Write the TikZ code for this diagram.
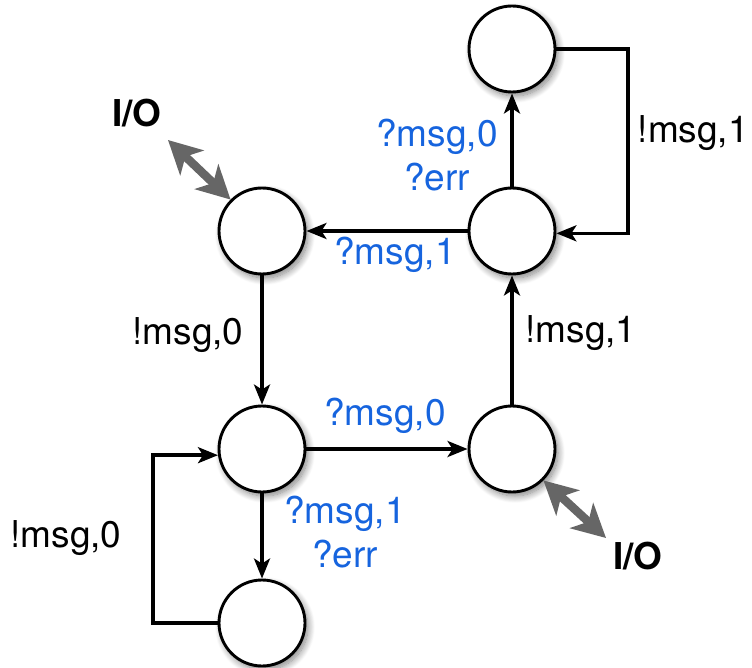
\documentclass[tikz,border=0pt]{standalone}
\usepackage{fontspec}
\setmainfont{TeX Gyre Heros}
\usetikzlibrary{arrows.meta,shadows.blur}
\definecolor{lblblue}{RGB}{22,100,222}
\definecolor{ioGray}{RGB}{102,102,102}
\tikzset{
  state/.style={circle,draw=black,line width=2.9pt,fill=white,minimum size=86pt,inner sep=0pt,
    blur shadow={shadow xshift=3pt,shadow yshift=-4pt,shadow blur radius=7pt,shadow blur steps=12,shadow opacity=50}},
  arr/.style={line width=3.4pt,-{Stealth[length=20pt,width=16pt,inset=5pt]}},
  loop/.style={arr,line join=miter},
  io/.style={draw=ioGray,line width=8.5pt,{Stealth[length=33pt,width=34pt,inset=9pt]}-{Stealth[length=33pt,width=34pt,inset=9pt]}},
  blk/.style={font=\fontsize{37}{44}\selectfont,text=black,inner sep=0pt},
  blu/.style={font=\fontsize{37}{44}\selectfont,text=lblblue,inner sep=0pt,align=center},
  iolbl/.style={font=\fontsize{37}{44}\selectfont\bfseries,inner sep=0pt}
}
\begin{document}
\begin{tikzpicture}[x=1pt,y=-1pt]
\useasboundingbox (0,0) rectangle (752,668);
\node[state] (A) at (512,49) {};
\node[state] (B) at (512,231) {};
\node[state] (C) at (262,231) {};
\node[state] (D) at (262,449) {};
\node[state] (E) at (262,623) {};
\node[state] (F) at (512,449) {};
\coordinate (ar) at (628,0);
\coordinate (el) at (153,0);
\coordinate (io1) at (168,140);
\coordinate (io2) at (606,538);
% edges
\draw[arr] (B) -- (A);
\draw[loop] (A.east) -- (A.east -| ar) |- (B.357);
\draw[arr] (B) -- (C);
\draw[arr] (C) -- (D);
\draw[arr] (D) -- (F);
\draw[arr] (D) -- (E);
\draw[loop] (E.west) -- (E.west -| el) |- (D.188);
\draw[arr] (F) -- (B);
% I/O arrows
\draw[io] (io1) -- (C.135);
\draw[io] (F.-45) -- (io2);
% labels
\node[blu] at (437,155) {?msg,0\\?err};
\node[blu] at (395,255) {?msg,1};
\node[blu] at (385,416) {?msg,0};
\node[blu] at (345,532) {?msg,1\\?err};
\node[blk,anchor=east] at (749,133) {!msg,1};
\node[blk] at (581,333) {!msg,1};
\node[blk] at (188,335) {!msg,0};
\node[blk] at (66,538) {!msg,0};
\node[iolbl] at (137,113) {I/O};
\node[iolbl] at (638,556) {I/O};
\end{tikzpicture}
\end{document}
